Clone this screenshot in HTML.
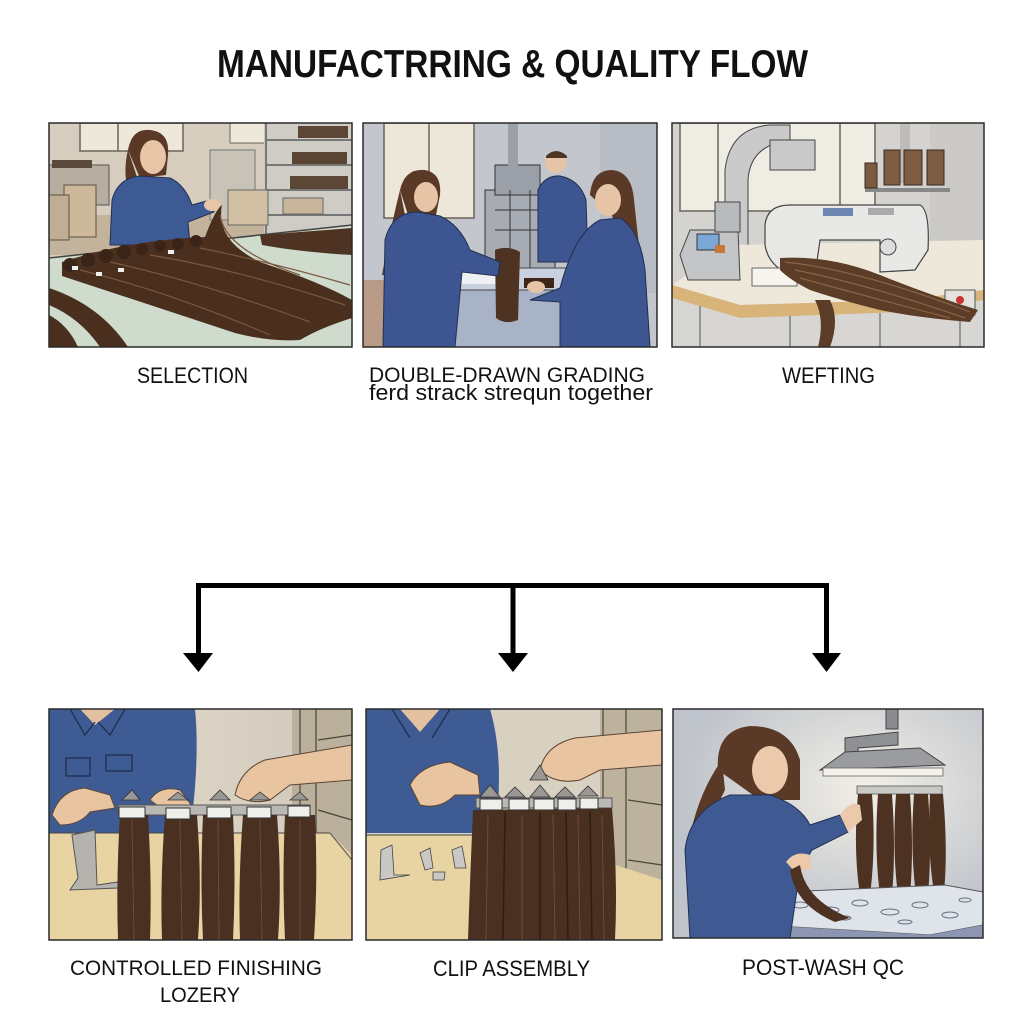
<!DOCTYPE html>
<html><head><meta charset="utf-8"><style>
html,body{margin:0;padding:0;background:#fff;}
svg{display:block;}
text{font-family:"Liberation Sans",sans-serif;fill:#111;}
</style></head><body>
<svg width="1024" height="1024" viewBox="0 0 1024 1024" xmlns="http://www.w3.org/2000/svg">
<defs>
<clipPath id="c1"><rect x="49" y="123" width="303" height="224"/></clipPath>
<clipPath id="c2"><rect x="363" y="123" width="294" height="224"/></clipPath>
<clipPath id="c3"><rect x="672" y="123" width="312" height="224"/></clipPath>
<clipPath id="c4"><rect x="49" y="709" width="303" height="231"/></clipPath>
<clipPath id="c5"><rect x="366" y="709" width="296" height="231"/></clipPath>
<clipPath id="c6"><rect x="673" y="709" width="310" height="229"/></clipPath>
<radialGradient id="glow" cx="0.62" cy="0.35" r="0.6">
<stop offset="0" stop-color="#f2efe6"/><stop offset="1" stop-color="#bfc3cb"/>
</radialGradient>
<linearGradient id="wall4" x1="0" y1="0" x2="1" y2="0">
<stop offset="0" stop-color="#e6dccb"/><stop offset="1" stop-color="#cfc8bb"/>
</linearGradient>
</defs>

<!-- Title -->
<text x="217" y="77" font-size="39" font-weight="bold" textLength="591" lengthAdjust="spacingAndGlyphs">MANUFACTRRING &amp; QUALITY FLOW</text>

<!-- ========== PANEL 1: SELECTION ========== -->
<g clip-path="url(#c1)">
<rect x="49" y="123" width="303" height="224" fill="#d6cdbf"/>
<rect x="80" y="123" width="103" height="28" fill="#eee8da" stroke="#6b6458" stroke-width="1.5"/>
<line x1="118" y1="123" x2="118" y2="151" stroke="#6b6458" stroke-width="1.5"/>
<rect x="230" y="123" width="36" height="20" fill="#eee8da" stroke="#6b6458"/>
<rect x="49" y="215" width="303" height="40" fill="#c4b39b"/>
<rect x="49" y="165" width="60" height="40" fill="#b7ada0" stroke="#555" stroke-width="1"/>
<rect x="52" y="160" width="40" height="8" fill="#5a4a3c"/>
<rect x="64" y="185" width="32" height="52" fill="#cdb89a" stroke="#5a5045"/>
<rect x="49" y="195" width="20" height="45" fill="#bfae94" stroke="#5a5045"/>
<rect x="264" y="123" width="88" height="112" fill="#cfccc6"/>
<g stroke="#777" stroke-width="2"><line x1="266" y1="140" x2="352" y2="140"/><line x1="266" y1="165" x2="352" y2="165"/><line x1="266" y1="190" x2="352" y2="190"/><line x1="266" y1="215" x2="352" y2="215"/><line x1="266" y1="123" x2="266" y2="240"/></g>
<rect x="298" y="126" width="50" height="12" fill="#5c4636"/>
<rect x="292" y="152" width="55" height="12" fill="#5a4434"/>
<rect x="290" y="176" width="58" height="13" fill="#5c4636"/>
<rect x="283" y="198" width="40" height="16" fill="#c8b69c" stroke="#666"/>
<rect x="210" y="150" width="45" height="70" fill="#c9c2b6" stroke="#777"/>
<rect x="228" y="190" width="40" height="35" fill="#d2c0a4" stroke="#666"/>
<path d="M128 150 Q132 128 150 130 Q170 132 168 155 L166 175 L140 178 Z" fill="#5a3a26"/>
<ellipse cx="153" cy="157" rx="13" ry="17" fill="#e8c5a6"/>
<path d="M128 150 Q122 175 130 195 L138 180 Z" fill="#5a3a26"/>
<path d="M110 245 L112 200 Q118 178 140 176 L170 178 Q185 185 192 205 L210 200 L214 212 L188 222 L190 245 Z" fill="#3e5a94" stroke="#22304f" stroke-width="1"/>
<ellipse cx="212" cy="205" rx="8" ry="6" fill="#e8c5a6"/>
<polygon points="49,258 352,225 352,347 49,347" fill="#cfdccd"/>
<line x1="49" y1="258" x2="352" y2="225" stroke="#444" stroke-width="1.5"/>
<!-- main fan -->
<path d="M62 262 Q130 240 205 237 Q215 210 222 205 Q215 240 260 262 Q320 282 352 300 L352 318 Q320 328 300 340 Q270 342 235 333 Q150 305 62 276 Z" fill="#4b2f1e"/>
<path d="M260 235 Q300 232 352 228 L352 255 Q300 252 262 245 Z" fill="#4f3322"/>
<g stroke="#7a573e" stroke-width="1.2" fill="none">
<path d="M80 270 Q170 292 270 335"/><path d="M110 262 Q200 282 310 322"/><path d="M150 255 Q240 270 345 305"/><path d="M200 248 Q270 262 350 285"/><path d="M220 215 Q225 250 300 275"/>
</g>
<g fill="#3a2418"><circle cx="70" cy="265" r="7"/><circle cx="88" cy="260" r="7"/><circle cx="106" cy="256" r="7"/><circle cx="124" cy="252" r="7"/><circle cx="142" cy="249" r="6"/><circle cx="160" cy="246" r="6"/><circle cx="178" cy="244" r="6"/><circle cx="196" cy="241" r="6"/></g>
<g fill="#eee"><rect x="72" y="266" width="6" height="4"/><rect x="96" y="272" width="6" height="4"/><rect x="118" y="268" width="6" height="4"/><rect x="168" y="250" width="6" height="4"/></g>
<!-- bottom-left strands -->
<path d="M49 288 Q100 305 128 347 L100 347 Q80 318 49 305 Z" fill="#4b2f1e"/>
<path d="M49 315 Q68 325 78 347 L49 347 Z" fill="#4b2f1e"/>
</g>
<rect x="49" y="123" width="303" height="224" fill="none" stroke="#2a2a2a" stroke-width="1.5"/>

<!-- ========== PANEL 2: GRADING ========== -->
<g clip-path="url(#c2)">
<rect x="363" y="123" width="294" height="224" fill="#c3c6cd"/>
<rect x="384" y="123" width="90" height="95" fill="#ece7d8" stroke="#6b6458" stroke-width="1.5"/>
<line x1="429" y1="123" x2="429" y2="218" stroke="#6b6458" stroke-width="1.5"/>
<rect x="600" y="123" width="57" height="170" fill="#b8bcc4"/>
<rect x="363" y="280" width="40" height="67" fill="#b89a86"/>
<rect x="485" y="190" width="70" height="80" fill="#a7abb3" stroke="#333" stroke-width="1"/>
<rect x="495" y="165" width="45" height="30" fill="#9ba0a8" stroke="#333"/>
<rect x="508" y="123" width="10" height="45" fill="#9aa0a8"/>
<g stroke="#333" stroke-width="1"><line x1="495" y1="210" x2="545" y2="210"/><line x1="495" y1="230" x2="545" y2="230"/><line x1="510" y1="190" x2="510" y2="270"/><line x1="530" y1="190" x2="530" y2="270"/></g>
<circle cx="556" cy="162" r="11" fill="#e6c4a5"/>
<path d="M546 156 Q556 146 567 156 L567 158 L546 158 Z" fill="#4f3526"/>
<path d="M538 262 L538 190 Q545 175 560 176 Q580 180 586 200 L588 262 Z" fill="#3d5590" stroke="#22304f"/>
<polygon points="425,268 610,268 630,290 405,290" fill="#c9d1df" stroke="#444" stroke-width="1"/>
<rect x="425" y="290" width="190" height="57" fill="#a9b3c8" stroke="#444" stroke-width="1"/>
<line x1="440" y1="300" x2="440" y2="347" stroke="#555"/>
<line x1="590" y1="300" x2="590" y2="347" stroke="#555"/>
<rect x="450" y="272" width="50" height="12" fill="#eef0f4"/>
<path d="M495 250 Q508 245 520 252 L518 320 Q505 325 496 318 Z" fill="#4e3222"/>
<rect x="524" y="278" width="30" height="10" fill="#3b2619"/>
<path d="M400 190 Q405 168 425 170 Q442 173 440 195 L436 215 L408 215 Z" fill="#5a3a26"/>
<path d="M400 190 Q390 230 382 275 L395 275 L405 215 Z" fill="#5a3a26"/>
<ellipse cx="426" cy="197" rx="12" ry="15" fill="#e6c4a5"/>
<path d="M383 347 L385 240 Q392 212 418 212 L440 216 Q460 225 470 250 L500 262 L498 276 L462 272 L455 347 Z" fill="#3d5590" stroke="#22304f"/>
<path d="M590 195 Q592 170 612 170 Q632 172 634 200 L640 255 L620 250 L612 215 Z" fill="#5a3a26"/>
<ellipse cx="608" cy="200" rx="13" ry="16" fill="#e6c4a5"/>
<path d="M530 300 L560 288 Q575 232 600 220 L620 218 Q640 230 645 270 L650 347 L560 347 L560 302 Z" fill="#3d5590" stroke="#22304f"/>
<ellipse cx="536" cy="287" rx="9" ry="6" fill="#e6c4a5"/>
</g>
<rect x="363" y="123" width="294" height="224" fill="none" stroke="#2a2a2a" stroke-width="1.5"/>

<!-- ========== PANEL 3: WEFTING ========== -->
<g clip-path="url(#c3)">
<rect x="672" y="123" width="312" height="224" fill="#d4d3d0"/>
<rect x="680" y="123" width="195" height="88" fill="#efece4" stroke="#6b6458" stroke-width="1.5"/>
<line x1="718" y1="123" x2="718" y2="211" stroke="#6b6458" stroke-width="1.5"/>
<line x1="840" y1="123" x2="840" y2="211" stroke="#6b6458" stroke-width="1.5"/>
<rect x="900" y="123" width="10" height="60" fill="#bdbcb9"/>
<rect x="930" y="123" width="54" height="120" fill="#cbcac7"/>
<rect x="865" y="188" width="85" height="4" fill="#888"/>
<rect x="865" y="163" width="12" height="25" fill="#7a5a40" stroke="#3a2a20"/>
<rect x="884" y="150" width="16" height="35" fill="#7e5c42" stroke="#3a2a20"/>
<rect x="904" y="150" width="18" height="35" fill="#7e5c42" stroke="#3a2a20"/>
<rect x="927" y="150" width="17" height="35" fill="#7e5c42" stroke="#3a2a20"/>
<path d="M725 300 L725 170 Q730 128 770 125 L790 125 L790 140 Q750 145 748 180 L748 300 Z" fill="#c9cac9" stroke="#444" stroke-width="1"/>
<rect x="770" y="140" width="45" height="30" fill="#c8c9c8" stroke="#444"/>
<polygon points="672,285 730,245 984,240 984,290 905,300 740,305" fill="#eee8da"/>
<polygon points="672,285 740,305 740,318 672,298" fill="#d8b47a"/>
<polygon points="740,305 905,300 984,290 984,300 905,312 740,318" fill="#d8b47a"/>
<polygon points="672,298 740,318 905,312 984,300 984,347 672,347" fill="#d7d6d2"/>
<g stroke="#555" stroke-width="1"><line x1="700" y1="306" x2="700" y2="347"/><line x1="790" y1="316" x2="790" y2="347"/><line x1="880" y1="313" x2="880" y2="347"/><line x1="960" y1="302" x2="960" y2="347"/></g>
<rect x="945" y="290" width="30" height="25" fill="#e3e2df" stroke="#555"/>
<circle cx="960" cy="300" r="4" fill="#c33"/>
<path d="M680 255 L690 230 L738 230 L740 280 L688 280 Z" fill="#c4c5c6" stroke="#444"/>
<rect x="697" y="234" width="22" height="16" fill="#7aa7d6" stroke="#333"/>
<rect x="715" y="245" width="10" height="8" fill="#c57a3a"/>
<rect x="715" y="202" width="25" height="30" fill="#b9babb" stroke="#444"/>
<path d="M765 225 Q767 205 790 205 L920 205 Q930 210 928 250 L915 270 L880 272 L880 240 L820 240 L815 275 L790 275 Q768 265 765 245 Z" fill="#e8e8e6" stroke="#444" stroke-width="1.2"/>
<rect x="823" y="208" width="30" height="8" fill="#6c86b0"/>
<rect x="868" y="208" width="26" height="7" fill="#aaa"/>
<circle cx="888" cy="247" r="8" fill="#ddd" stroke="#444"/>
<rect x="802" y="265" width="6" height="20" fill="#777"/>
<rect x="752" y="268" width="45" height="18" fill="#f6f4ef" stroke="#666"/>
<path d="M780 258 Q830 255 880 275 Q930 295 978 310 L970 322 Q920 318 880 310 Q840 300 810 290 Q790 280 780 270 Z" fill="#5c3d27"/>
<g stroke="#8a6446" stroke-width="1.2" fill="none"><path d="M785 262 Q860 270 970 312"/><path d="M795 270 Q870 285 965 318"/><path d="M800 278 Q880 300 950 318"/></g>
<path d="M830 300 Q840 320 830 347 L818 347 Q825 320 815 300 Z" fill="#5c3d27"/>
</g>
<rect x="672" y="123" width="312" height="224" fill="none" stroke="#2a2a2a" stroke-width="1.5"/>

<!-- Labels top -->
<text x="137" y="383" font-size="22" textLength="111" lengthAdjust="spacingAndGlyphs">SELECTION</text>
<text x="369" y="382" font-size="21" textLength="276" lengthAdjust="spacingAndGlyphs">DOUBLE-DRAWN GRADING</text>
<text x="369" y="400" font-size="22" textLength="284" lengthAdjust="spacingAndGlyphs">ferd strack strequn together</text>
<text x="782" y="383" font-size="22" textLength="93" lengthAdjust="spacingAndGlyphs">WEFTING</text>

<!-- Connector -->
<g stroke="#000" stroke-width="5" fill="none">
<line x1="196" y1="585.5" x2="829" y2="585.5"/>
<line x1="198.5" y1="583" x2="198.5" y2="656"/>
<line x1="513" y1="583" x2="513" y2="656"/>
<line x1="826.5" y1="583" x2="826.5" y2="656"/>
</g>
<polygon points="183,653 213,653 198.5,672" fill="#000"/>
<polygon points="498,653 528,653 513,672" fill="#000"/>
<polygon points="812,653 841,653 826.5,672" fill="#000"/>

<!-- ========== PANEL 4: CONTROLLED FINISHING ========== -->
<g clip-path="url(#c4)">
<rect x="49" y="709" width="303" height="231" fill="url(#wall4)"/>
<rect x="292" y="709" width="60" height="225" fill="#bbb09c"/>
<g stroke="#4a4438" stroke-width="1.2" fill="none"><line x1="300" y1="709" x2="300" y2="840"/><line x1="316" y1="709" x2="316" y2="850"/><line x1="318" y1="740" x2="352" y2="735"/><line x1="318" y1="810" x2="352" y2="820"/><line x1="318" y1="870" x2="352" y2="880"/></g>
<path d="M49 833 L49 709 L195 709 Q200 760 190 833 Z" fill="#3f5b93"/>
<path d="M80 709 L95 725 L115 709 Z" fill="#e3c1a0"/>
<g stroke="#1e2a48" stroke-width="1.2" fill="none"><path d="M70 709 L85 735 L95 722"/><path d="M125 709 L110 735 L98 722"/><rect x="66" y="758" width="24" height="18"/><rect x="106" y="755" width="26" height="16"/></g>
<polygon points="49,833 330,833 352,855 352,940 49,940" fill="#e8d3a3"/>
<line x1="49" y1="833" x2="330" y2="833" stroke="#444" stroke-width="1"/>
<line x1="330" y1="833" x2="352" y2="860" stroke="#555"/>
<path d="M52 815 Q60 790 85 788 L110 795 L115 808 L90 812 Q80 825 60 825 Z" fill="#e8c4a0" stroke="#5b4535"/>
<path d="M150 800 Q160 785 180 790 L195 810 L170 815 Z" fill="#e8c4a0" stroke="#5b4535"/>
<path d="M235 795 Q240 770 265 760 L352 745 L352 780 L290 785 L270 800 Q250 805 235 795 Z" fill="#e8c4a0" stroke="#5b4535"/>
<path d="M72 835 L95 830 L97 885 L118 882 L118 888 L70 890 L78 878 Z" fill="#b5b3ae" stroke="#555"/>
<rect x="118" y="805" width="192" height="10" fill="#b9b8b4" stroke="#555"/>
<g fill="#4a3020">
<path d="M120 815 L148 815 Q152 880 150 940 L118 940 Q116 880 120 815 Z"/>
<path d="M165 815 L197 815 Q202 880 198 940 L162 940 Q160 880 165 815 Z"/>
<path d="M203 815 L233 815 Q236 880 233 940 L203 940 Q200 880 203 815 Z"/>
<path d="M243 815 L277 815 Q282 880 278 940 L240 940 Q238 880 243 815 Z"/>
<path d="M285 815 L315 815 Q318 880 314 940 L285 940 Q282 880 285 815 Z"/>
</g>
<g stroke="#6e4c35" stroke-width="1" fill="none"><line x1="132" y1="820" x2="134" y2="940"/><line x1="180" y1="820" x2="182" y2="940"/><line x1="218" y1="820" x2="219" y2="940"/><line x1="260" y1="820" x2="262" y2="940"/><line x1="300" y1="820" x2="300" y2="940"/></g>
<g fill="#eeeeea" stroke="#333" stroke-width="1"><rect x="119" y="807" width="26" height="11"/><rect x="166" y="808" width="24" height="11"/><rect x="207" y="807" width="24" height="11"/><rect x="247" y="807" width="24" height="11"/><rect x="288" y="806" width="22" height="11"/></g>
<g fill="#9a9894" stroke="#333" stroke-width="0.8"><path d="M122 800 L132 790 L140 800 Z"/><path d="M168 800 L178 792 L188 800 Z"/><path d="M210 800 L220 790 L230 800 Z"/><path d="M250 800 L260 792 L270 800 Z"/><path d="M290 800 L300 792 L308 800 Z"/></g>
</g>
<rect x="49" y="709" width="303" height="231" fill="none" stroke="#2a2a2a" stroke-width="1.5"/>

<!-- ========== PANEL 5: CLIP ASSEMBLY ========== -->
<g clip-path="url(#c5)">
<rect x="366" y="709" width="296" height="231" fill="#d8d0c0"/>
<rect x="600" y="709" width="62" height="231" fill="#bdb29e"/>
<g stroke="#4a4438" stroke-width="1.2" fill="none"><line x1="603" y1="709" x2="603" y2="940"/><line x1="626" y1="709" x2="626" y2="940"/><line x1="628" y1="735" x2="662" y2="732"/><line x1="628" y1="800" x2="662" y2="805"/><line x1="628" y1="860" x2="662" y2="865"/></g>
<path d="M366 833 L366 709 L490 709 Q505 760 495 833 Z" fill="#3f5b93"/>
<path d="M400 709 L420 732 L440 709 Z" fill="#e3c1a0"/>
<g stroke="#1e2a48" stroke-width="1.2" fill="none"><path d="M392 709 L410 738"/><path d="M450 709 L432 738"/></g>
<polygon points="366,835 610,835 620,940 366,940" fill="#e8d3a3"/>
<polygon points="600,860 662,880 662,940 600,940" fill="#e8d3a3"/>
<line x1="366" y1="835" x2="480" y2="835" stroke="#444"/>
<path d="M410 785 Q420 765 450 762 L478 775 L480 795 L455 795 Q440 810 420 805 Z" fill="#e8c4a0" stroke="#5b4535"/>
<path d="M540 770 Q545 745 575 738 L662 730 L662 765 L600 770 L580 780 Q555 785 540 770 Z" fill="#e8c4a0" stroke="#5b4535"/>
<g fill="#c9c8c4" stroke="#444" stroke-width="0.8"><path d="M381 850 L392 845 L394 875 L410 875 L380 880 Z"/><path d="M420 853 L430 848 L433 868 L425 870 Z"/><path d="M433 872 L445 872 L444 880 L433 880 Z"/><path d="M452 850 L462 846 L466 868 L455 868 Z"/></g>
<rect x="476" y="798" width="136" height="10" fill="#b9b8b4" stroke="#555"/>
<path d="M473 810 L612 808 Q618 880 615 940 L468 940 Q470 880 473 810 Z" fill="#4a3020"/>
<g stroke="#2e1d13" stroke-width="1.5" fill="none"><line x1="505" y1="812" x2="503" y2="940"/><line x1="540" y1="812" x2="540" y2="940"/><line x1="566" y1="812" x2="568" y2="940"/><line x1="590" y1="812" x2="592" y2="940"/></g>
<g stroke="#6e4c35" stroke-width="1" fill="none"><line x1="488" y1="815" x2="486" y2="940"/><line x1="522" y1="815" x2="522" y2="940"/><line x1="553" y1="815" x2="555" y2="940"/><line x1="578" y1="815" x2="580" y2="940"/><line x1="602" y1="815" x2="604" y2="940"/></g>
<g fill="#eeeeea" stroke="#333" stroke-width="1"><rect x="480" y="799" width="22" height="11"/><rect x="509" y="799" width="20" height="11"/><rect x="534" y="799" width="20" height="11"/><rect x="558" y="799" width="18" height="11"/><rect x="580" y="798" width="18" height="11"/></g>
<g fill="#9a9894" stroke="#333" stroke-width="0.8"><path d="M480 797 L490 785 L500 797 Z"/><path d="M505 797 L515 787 L525 797 Z"/><path d="M530 797 L540 785 L550 797 Z"/><path d="M555 797 L565 787 L575 797 Z"/><path d="M578 796 L588 786 L598 796 Z"/><path d="M530 780 L540 765 L548 780 Z"/></g>
</g>
<rect x="366" y="709" width="296" height="231" fill="none" stroke="#2a2a2a" stroke-width="1.5"/>

<!-- ========== PANEL 6: POST-WASH QC ========== -->
<g clip-path="url(#c6)">
<rect x="673" y="709" width="310" height="229" fill="url(#glow)"/>
<rect x="886" y="709" width="12" height="20" fill="#8a8c90" stroke="#444"/>
<path d="M845 755 L845 738 L898 732 L898 745 L858 748 L858 758 Z" fill="#8e9094" stroke="#444"/>
<polygon points="820,770 845,752 920,748 945,765" fill="#9a9c9f" stroke="#444" stroke-width="1"/>
<rect x="823" y="768" width="120" height="8" fill="#f4f2ea" stroke="#666" stroke-width="0.8"/>
<rect x="857" y="786" width="85" height="8" fill="#c9c9c6" stroke="#555" stroke-width="0.8"/>
<g fill="#4d3222">
<path d="M858 794 L872 794 Q876 850 870 895 L860 895 Q853 850 858 794 Z"/>
<path d="M878 794 L892 794 Q896 850 892 895 L880 895 Q874 850 878 794 Z"/>
<path d="M896 794 L910 794 Q914 850 910 895 L898 895 Q892 850 896 794 Z"/>
<path d="M914 794 L928 794 Q932 850 928 895 L916 895 Q910 850 914 794 Z"/>
<path d="M930 794 L943 794 Q948 850 944 892 L934 892 Q927 850 930 794 Z"/>
</g>
<!-- tank -->
<polygon points="730,905 760,893 945,885 983,892 983,925 930,935 760,925" fill="#dfe3ea" stroke="#555" stroke-width="1"/>
<g fill="none" stroke="#6a7080" stroke-width="1"><ellipse cx="800" cy="905" rx="8" ry="3"/><ellipse cx="830" cy="910" rx="9" ry="3"/><ellipse cx="860" cy="903" rx="8" ry="3"/><ellipse cx="890" cy="912" rx="9" ry="3"/><ellipse cx="920" cy="905" rx="8" ry="3"/><ellipse cx="950" cy="915" rx="8" ry="3"/><ellipse cx="845" cy="918" rx="6" ry="2"/><ellipse cx="905" cy="922" rx="7" ry="2"/><ellipse cx="965" cy="900" rx="6" ry="2"/></g>
<polygon points="730,905 760,925 760,938 730,938" fill="#8891ad"/>
<polygon points="760,925 930,935 983,925 983,938 760,938" fill="#8c95b2"/>
<!-- woman -->
<path d="M718 770 Q715 730 750 726 Q790 726 800 760 L800 800 L760 800 Z" fill="#5a3a26"/>
<path d="M722 760 Q700 790 690 835 L705 830 L725 790 Z" fill="#5a3a26"/>
<ellipse cx="770" cy="770" rx="18" ry="24" fill="#ebc9aa"/>
<path d="M690 938 L685 850 Q690 810 730 795 L770 795 Q800 805 810 825 L840 815 L848 832 L812 850 L800 870 L790 938 Z" fill="#3f5a93" stroke="#22304f"/>
<path d="M840 815 Q850 800 860 805 L862 820 L848 832 Z" fill="#ebc9aa"/>
<path d="M786 862 Q795 850 810 855 L812 868 L795 872 Z" fill="#ebc9aa"/>
<path d="M800 865 Q805 900 850 918 L835 922 Q795 905 790 870 Z" fill="#4d3222"/>
</g>
<rect x="673" y="709" width="310" height="229" fill="none" stroke="#2a2a2a" stroke-width="1.5"/>

<!-- Labels bottom -->
<text x="70" y="975" font-size="21" textLength="252" lengthAdjust="spacingAndGlyphs">CONTROLLED FINISHING</text>
<text x="160" y="1002" font-size="21" textLength="80" lengthAdjust="spacingAndGlyphs">LOZERY</text>
<text x="433" y="976" font-size="22" textLength="157" lengthAdjust="spacingAndGlyphs">CLIP ASSEMBLY</text>
<text x="742" y="975" font-size="22" textLength="162" lengthAdjust="spacingAndGlyphs">POST-WASH QC</text>
</svg>
</body></html>
